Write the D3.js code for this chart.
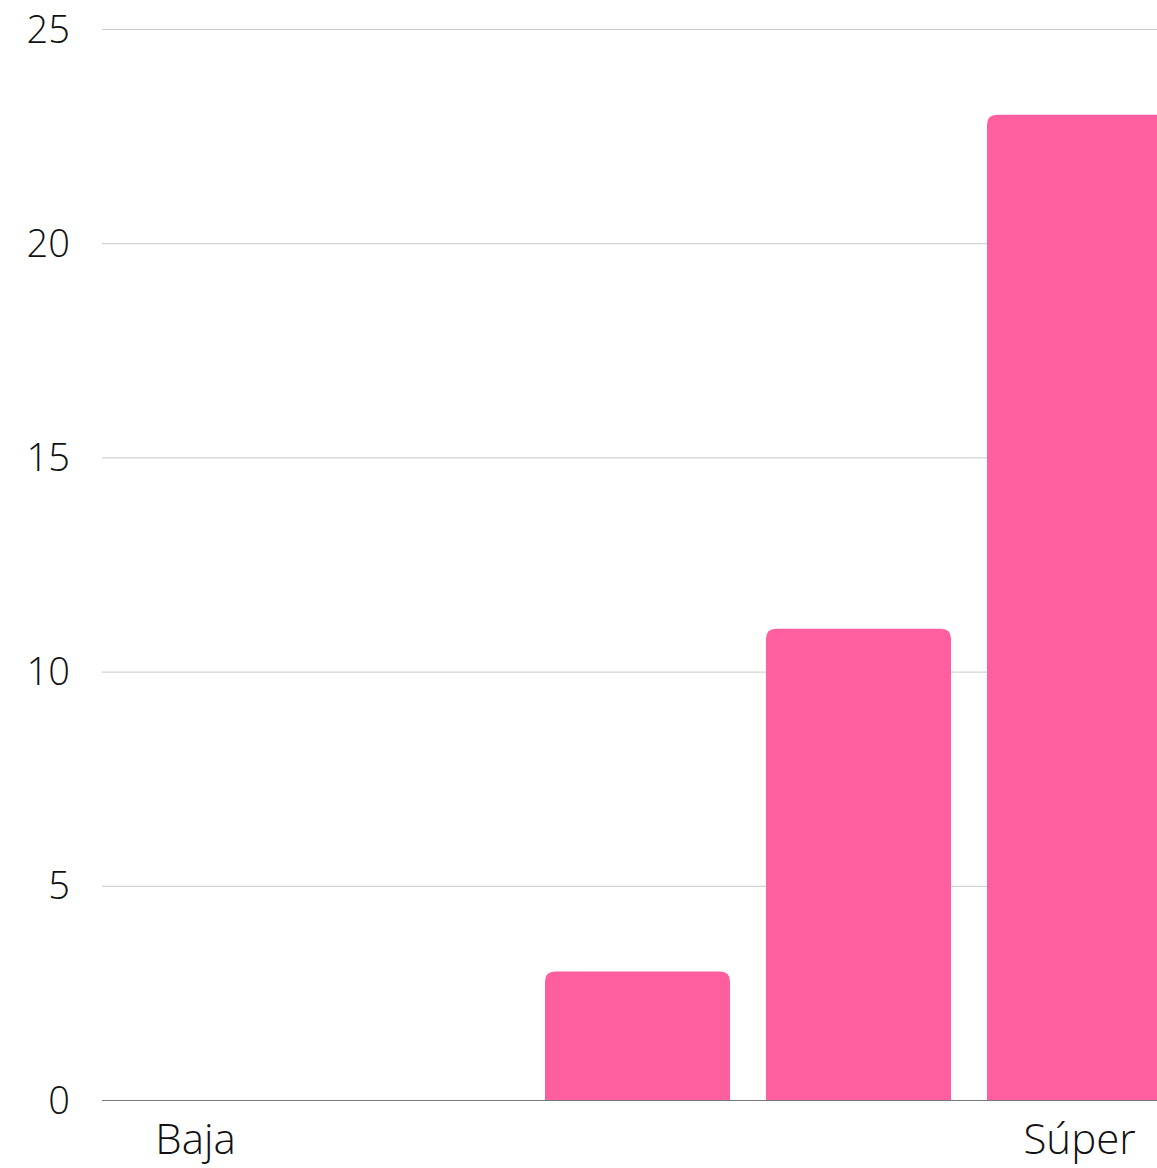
<!DOCTYPE html>
<html>
<head>
<meta charset="utf-8">
<script src="https://cdn.jsdelivr.net/npm/d3@7"></script>
<style>
  html, body { margin: 0; padding: 0; background: #fff; }
  svg { display: block; font-family: "Open Sans", Lato, sans-serif; font-weight: 300; }
</style>
</head>
<body>
<svg id="chart" width="1157" height="1168"></svg>
<script>
const categories = ["Baja", "Media", "Alta", "Muy alta", "Súper"];
const values = [0, 0, 3, 11, 23];
const yTicks = [0, 5, 10, 15, 20, 25];
const shownLabels = ["Baja", "Súper"];

const W = 1157, H = 1168;
const svg = d3.select("#chart");

const x = d3.scaleBand()
  .domain(categories)
  .range([103, 1172])
  .paddingInner(36 / 221)
  .paddingOuter(0);

const y = d3.scaleLinear().domain([0, 25]).range([1100, 29]);

// gridlines
svg.append("g").selectAll("line")
  .data(yTicks.filter(t => t !== 0))
  .join("line")
  .attr("x1", 102).attr("x2", W)
  .attr("y1", d => y(d) + 0.5).attr("y2", d => y(d) + 0.5)
  .attr("stroke", "#c8c8c8").attr("stroke-width", 1);

// y tick labels
svg.append("g").selectAll("text")
  .data(yTicks)
  .join("text")
  .attr("x", 70)
  .attr("y", d => y(d))
  .attr("dy", "0.36em")
  .attr("text-anchor", "end")
  .attr("font-size", 38)
  .attr("fill", "#111")
  .text(d => d);

// bars with rounded tops
const r = 10;
function barPath(d, i) {
  const x0 = x(categories[i]), w = x.bandwidth();
  const y0 = y(d), yb = y(0);
  if (d <= 0) return "";
  const rr = Math.min(r, (yb - y0));
  return `M${x0},${yb}V${y0 + rr}Q${x0},${y0} ${x0 + rr},${y0}H${x0 + w - rr}Q${x0 + w},${y0} ${x0 + w},${y0 + rr}V${yb}Z`;
}
svg.append("g").selectAll("path")
  .data(values)
  .join("path")
  .attr("d", barPath)
  .attr("fill", "#ff5f9f");

// baseline
svg.append("line")
  .attr("x1", 102).attr("x2", W)
  .attr("y1", y(0) + 0.5).attr("y2", y(0) + 0.5)
  .attr("stroke", "#777").attr("stroke-width", 1.2);

// x labels
svg.append("g").selectAll("text")
  .data(shownLabels)
  .join("text")
  .attr("x", d => x(d) + x.bandwidth() / 2)
  .attr("y", 1154)
  .attr("text-anchor", "middle")
  .attr("font-size", 42)
  .attr("fill", "#111")
  .text(d => d);
</script>
</body>
</html>
